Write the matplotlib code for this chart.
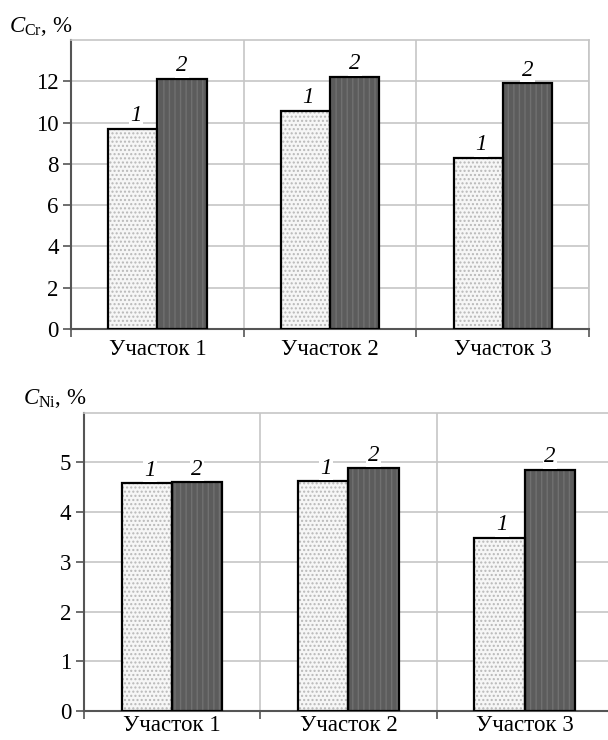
import matplotlib
matplotlib.use('Agg')
import matplotlib.pyplot as plt
import numpy as np

plt.rcParams['font.family'] = ['Liberation Serif', 'DejaVu Serif']
plt.rcParams['mathtext.fontset'] = 'custom'
plt.rcParams['mathtext.rm'] = 'Liberation Serif'
plt.rcParams['mathtext.it'] = 'Liberation Serif:italic'
plt.rcParams['hatch.linewidth'] = 1.0

categories = ['Участок 1', 'Участок 2', 'Участок 3']
cr_1 = [9.7, 10.58, 8.28]
cr_2 = [12.1, 12.2, 11.9]
ni_1 = [4.58, 4.62, 3.48]
ni_2 = [4.6, 4.88, 4.85]
cr_ticks = [0, 2, 4, 6, 8, 10, 12]
ni_ticks = [0, 1, 2, 3, 4, 5]

fig = plt.figure(figsize=(6.08, 7.40), dpi=100)
ax1 = fig.add_axes([0.117, 0.5554, 0.852, 0.3905])
ax2 = fig.add_axes([0.138, 0.0392, 0.870, 0.403])

w = 0.285
grid_c = '#c6c6c6'
spine_c = '#555555'
fs = 16.5


def draw(ax, v1, v2, ticks, ymax, xpad):
    x = np.arange(len(categories))
    # light dotted bars
    ax.bar(x - w / 2, v1, w, color='#f6f6f6', hatch='....', edgecolor='#b8b8b8',
           linewidth=0, zorder=3)
    ax.bar(x - w / 2, v1, w, fill=False, edgecolor='black', linewidth=1.6, zorder=4)
    # dark striped bars
    ax.bar(x + w / 2, v2, w, color='#5c5c5c', hatch='|||', edgecolor='#707070',
           linewidth=0, zorder=3)
    ax.bar(x + w / 2, v2, w, fill=False, edgecolor='black', linewidth=1.6, zorder=4)
    for i in range(len(categories)):
        ax.annotate('1', (x[i] - w / 2, v1[i]), xytext=(2, 2), textcoords='offset points',
                    ha='center', va='bottom', fontsize=fs, style='italic', zorder=5,
                    bbox=dict(facecolor='white', edgecolor='none', pad=1))
        ax.annotate('2', (x[i] + w / 2, v2[i]), xytext=(0, 2), textcoords='offset points',
                    ha='center', va='bottom', fontsize=fs, style='italic', zorder=5,
                    bbox=dict(facecolor='white', edgecolor='none', pad=1))
    ax.set_xlim(-0.5, len(categories) - 0.5)
    ax.set_ylim(0, ymax)
    ax.set_yticks(ticks)
    ax.set_xticks(x)
    ax.set_xticklabels(categories)
    ax.set_xticks(np.arange(-0.5, len(categories)), minor=True)
    ax.tick_params(axis='x', which='major', length=0, pad=xpad, labelsize=fs)
    ax.tick_params(axis='x', which='minor', length=6, width=1.2, color=spine_c)
    ax.tick_params(axis='y', length=6, width=1.2, color=spine_c, labelsize=fs, pad=3)
    ax.grid(axis='y', which='major', color=grid_c, linewidth=1.2, zorder=0)
    ax.grid(axis='x', which='minor', color=grid_c, linewidth=1.2, zorder=0)
    ax.set_axisbelow(True)
    for s in ['top', 'right']:
        ax.spines[s].set_color(grid_c)
        ax.spines[s].set_linewidth(1.2)
    for s in ['left', 'bottom']:
        ax.spines[s].set_color(spine_c)
        ax.spines[s].set_linewidth(1.5)


draw(ax1, cr_1, cr_2, cr_ticks, 14, 7)
draw(ax2, ni_1, ni_2, ni_ticks, 6, 3)

fig.text(0.015, 1 - 32 / 740, r'$C_{\mathrm{Cr}}$, %', fontsize=fs, va='baseline')
fig.text(0.038, 1 - 404 / 740, r'$C_{\mathrm{Ni}}$, %', fontsize=fs, va='baseline')

fig.savefig('out.png', dpi=100)
